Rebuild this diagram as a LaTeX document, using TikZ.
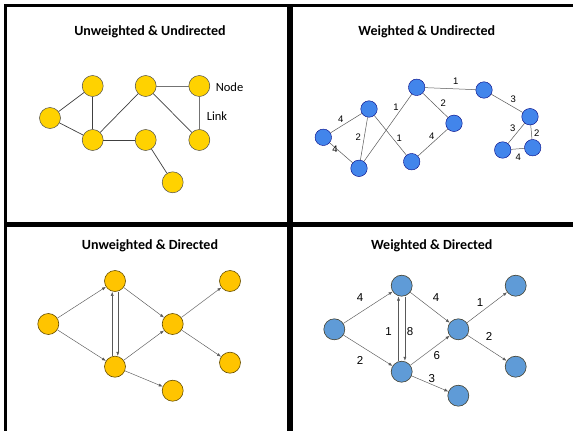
\documentclass[tikz,border=0pt]{standalone}
\usepackage{fontspec}
\setmainfont{Carlito}
\newfontfamily\arialf{Liberation Sans}
\usetikzlibrary{arrows.meta}
\definecolor{goldA}{RGB}{255,210,0}
\definecolor{goldB}{RGB}{255,196,0}
\definecolor{blueA}{RGB}{66,133,235}
\definecolor{blueB}{RGB}{95,155,215}
\begin{document}
\begin{tikzpicture}[x=1pt,y=-1pt,
  ynode/.style={circle,draw=black!70,fill=goldA,line width=0.5pt,minimum size=21pt,inner sep=0pt},
  ydnode/.style={circle,draw=black!60!goldB,fill=goldB,line width=0.6pt,minimum size=21pt,inner sep=0pt},
  bnode/.style={circle,draw=blue!50!black,fill=blueA,line width=0.4pt,minimum size=16.5pt,inner sep=0pt},
  bdnode/.style={circle,draw=black!70!olive,fill=blueB,line width=0.6pt,minimum size=21pt,inner sep=0pt},
  uedge/.style={draw=black!75,line width=0.7pt},
  wedge/.style={draw=black!65,line width=0.5pt},
  dedge/.style={draw=black!65,line width=0.45pt,-{Latex[length=4pt,width=3pt]}},
  title/.style={font=\bfseries\fontsize{14}{16}\selectfont},
  plab/.style={font=\fontsize{12.5}{14}\selectfont},
  wlab/.style={font=\arialf\fontsize{9.5}{10}\selectfont,inner sep=0pt},
  dlab/.style={font=\arialf\fontsize{11.5}{12}\selectfont,inner sep=0pt},
  frame/.style={line width=3pt,black}]
\useasboundingbox (0,0) rectangle (573,431);
\fill[white] (0,0) rectangle (573,431);
% frame
\draw[frame] (5.5,431) -- (5.5,5.5) -- (573,5.5);
\draw[line width=5.5pt] (290,5) -- (290,431);
\draw[line width=5pt] (5,224.5) -- (573,224.5);

% ---- Top-left
\node[title] (t1) at (150,31.5) {Unweighted \& Undirected};
\node[ynode] (A) at (50,118) {};
\node[ynode] (B) at (92.7,86) {};
\node[ynode] (C) at (92.7,140) {};
\node[ynode] (D) at (145.7,86) {};
\node[ynode] (E) at (199.3,86) {};
\node[ynode] (F) at (145.7,140) {};
\node[ynode] (G) at (199.3,140) {};
\node[ynode] (H) at (172.7,182.3) {};
\node[plab] (nl) at (229.5,87) {Node};
\node[plab] (ll) at (217,116) {Link};
\draw[uedge] (A) -- (B);
\draw[uedge] (A) -- (C);
\draw[uedge] (B) -- (C);
\draw[uedge] (C) -- (D);
\draw[uedge] (C) -- (F);
\draw[uedge,draw=black!55] (D) -- (E);
\draw[uedge] (D) -- (G);
\draw[uedge,draw=black!55] (E) -- (G);
\draw[uedge] (F) -- (H);

% ---- Top-right
\node[title] (t2) at (426.7,31.5) {Weighted \& Undirected};
\node[bnode] (n1) at (323.3,137.3) {};
\node[bnode] (n2) at (369,109) {};
\node[bnode] (n3) at (359,168.3) {};
\node[bnode] (n4) at (416.7,87.3) {};
\node[bnode] (n5) at (411.7,161.7) {};
\node[bnode] (n6) at (454,123.3) {};
\node[bnode] (n7) at (484,90) {};
\node[bnode] (n8) at (530,116.7) {};
\node[bnode] (n9) at (502.7,150) {};
\node[bnode] (n10) at (532.7,147.7) {};
\draw[wedge] (n1) -- (n2);
\draw[wedge] (n1) -- (n3);
\draw[wedge] (n2) -- (n3);
\draw[wedge] (n2) -- (n5);
\draw[wedge] (n3) -- (n4);
\draw[wedge] (n4) -- (n6);
\draw[wedge] (n5) -- (n6);
\draw[wedge] (n4) -- (n7);
\draw[wedge] (n7) -- (n8);
\draw[wedge] (n8) -- (n9);
\draw[wedge] (n8) -- (n10);
\draw[wedge] (n9) -- (n10);
\node[wlab] (w1) at (340.7,119) {4};
\node[wlab] (w2) at (335,149) {4};
\node[wlab] (w3) at (358.3,136.7) {2};
\node[wlab] (w4) at (396,107.3) {1};
\node[wlab] (w5) at (399.3,138.3) {1};
\node[wlab] (w6) at (443.3,103.3) {2};
\node[wlab] (w7) at (431.7,136) {4};
\node[wlab] (w8) at (455.7,81.7) {1};
\node[wlab] (w9) at (513.3,99) {3};
\node[wlab] (w10) at (512.7,128.3) {3};
\node[wlab] (w11) at (536.7,133.3) {2};
\node[wlab] (w12) at (518.3,157.7) {4};

% ---- Bottom-left
\node[title] (t3) at (150,246) {Unweighted \& Directed};
\node[ydnode] (a) at (48.3,324) {};
\node[ydnode] (b) at (115,281) {};
\node[ydnode] (c) at (115,366.7) {};
\node[ydnode] (d) at (172.7,324) {};
\node[ydnode] (e) at (230,281) {};
\node[ydnode] (f) at (230,362.7) {};
\node[ydnode] (g) at (172.7,390.7) {};
\draw[dedge] (a) -- (b);
\draw[dedge] (a) -- (c);
\draw[dedge] ([xshift=-2.8pt]c.north) -- ([xshift=-2.8pt]b.south);
\draw[dedge] ([xshift=2.8pt]b.south) -- ([xshift=2.8pt]c.north);
\draw[dedge] (b) -- (d);
\draw[dedge] (c) -- (d);
\draw[dedge] (d) -- (e);
\draw[dedge] (d) -- (f);
\draw[dedge] (c) -- (g);

% ---- Bottom-right
\node[title] (t4) at (431.7,246) {Weighted \& Directed};
\node[bdnode] (p) at (334.3,329.3) {};
\node[bdnode] (q) at (401.7,285.7) {};
\node[bdnode] (r) at (401.7,371.7) {};
\node[bdnode] (s) at (458.3,329.3) {};
\node[bdnode] (u) at (515.7,285.7) {};
\node[bdnode] (v) at (515.7,366.7) {};
\node[bdnode] (w) at (458.3,395.7) {};
\draw[dedge] (p) -- (q);
\draw[dedge] (p) -- (r);
\draw[dedge] ([xshift=-3.2pt]r.north) -- ([xshift=-3.2pt]q.south);
\draw[dedge] ([xshift=3.2pt]q.south) -- ([xshift=3.2pt]r.north);
\draw[dedge] (q) -- (s);
\draw[dedge] (r) -- (s);
\draw[dedge] (s) -- (u);
\draw[dedge] (s) -- (v);
\draw[dedge] (r) -- (w);
\node[dlab] (x1) at (360,297.3) {4};
\node[dlab] (x2) at (360,360) {2};
\node[dlab] (x3) at (388.5,331.7) {1};
\node[dlab] (x4) at (410,331.7) {8};
\node[dlab] (x5) at (436,297.3) {4};
\node[dlab] (x6) at (436.7,356) {6};
\node[dlab] (x7) at (431.7,378.3) {3};
\node[dlab] (x8) at (480,302.7) {1};
\node[dlab] (x9) at (489,336.7) {2};
\end{tikzpicture}
\end{document}
